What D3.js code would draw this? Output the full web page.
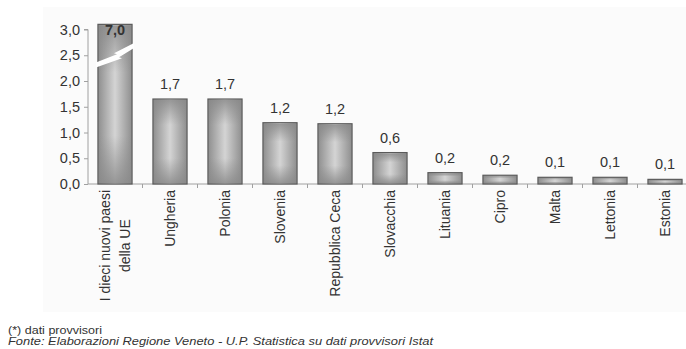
<!DOCTYPE html>
<html lang="it">
<head>
    <meta charset="UTF-8">
    <title>Nuovi paesi UE</title>
    <script src="https://d3js.org/d3.v7.min.js"></script>
    <style>
        body { margin: 0; background: #fff; }
        text { font-family: "Liberation Sans", Arial, sans-serif; fill: #333; }
        .tick text { font-size: 14.5px; }
        .axis path, .axis line { stroke: #a0a0a0; }
        .bar { stroke: #5a5a5a; stroke-width: 1.2; }
        .value { font-size: 14.5px; text-anchor: middle; }
        .cat { font-size: 14px; }
        .note { font-size: 11.5px; }
    </style>
</head>
<body>
<script>
    const width = 686;
    const height = 349;

    const categories = ["I dieci nuovi paesi\ndella UE", "Ungheria", "Polonia", "Slovenia", "Repubblica Ceca",
        "Slovacchia", "Lituania", "Cipro", "Malta", "Lettonia", "Estonia"];
    const values = [7.0, 1.65, 1.65, 1.19, 1.17, 0.61, 0.22, 0.17, 0.13, 0.13, 0.09];
    const valueLabels = ["7,0", "1,7", "1,7", "1,2", "1,2", "0,6", "0,2", "0,2", "0,1", "0,1", "0,1"];
    const yTicks = [0, 0.5, 1, 1.5, 2, 2.5, 3];

    const x = d3.scaleBand().domain(categories).range([87.5, 692.5]).paddingInner(0.38).paddingOuter(0.19);
    const y = d3.scaleLinear().domain([0, 3]).range([184, 29.5]);
    const cap = 3.1; // bars above the axis max are cut here

    const svg = d3.select("body").append("svg").attr("width", width).attr("height", height);

    const defs = svg.append("defs");
    const hg = defs.append("linearGradient").attr("id", "hgrad").attr("x1", 0).attr("x2", 1).attr("y1", 0).attr("y2", 0);
    hg.append("stop").attr("offset", "0%").attr("stop-color", "#8e8e8e");
    hg.append("stop").attr("offset", "50%").attr("stop-color", "#d4d4d4");
    hg.append("stop").attr("offset", "100%").attr("stop-color", "#8e8e8e");
    const vg = defs.append("linearGradient").attr("id", "vgrad").attr("x1", 0).attr("x2", 0).attr("y1", 0).attr("y2", 1);
    vg.append("stop").attr("offset", "0%").attr("stop-color", "#888").attr("stop-opacity", 0.8);
    vg.append("stop").attr("offset", "30%").attr("stop-color", "#888").attr("stop-opacity", 0);
    vg.append("stop").attr("offset", "70%").attr("stop-color", "#888").attr("stop-opacity", 0);
    vg.append("stop").attr("offset", "100%").attr("stop-color", "#888").attr("stop-opacity", 0.8);

    // light panel behind the chart
    svg.append("rect").attr("x", 43).attr("y", 7).attr("width", width - 43).attr("height", 305).attr("fill", "#fbfbfb");

    // axes
    const yAxis = svg.append("g").attr("class", "axis").attr("transform", "translate(88,0)")
        .call(d3.axisLeft(y).tickValues(yTicks).tickSize(4).tickPadding(4)
            .tickFormat(d => d3.format(".1f")(d).replace(".", ",")));
    yAxis.select(".domain").attr("d", `M-4,${y(3)}H0V${y(0)}`);

    const xAxis = svg.append("g").attr("class", "axis").attr("transform", `translate(0,${y(0)})`);
    xAxis.append("line").attr("x1", 88).attr("x2", 692.5);
    xAxis.selectAll("line.tk").data(categories.slice(1)).enter().append("line").attr("class", "tk")
        .attr("x1", d => x(d) - x.step() * x.paddingInner() / 2)
        .attr("x2", d => x(d) - x.step() * x.paddingInner() / 2)
        .attr("y1", 0).attr("y2", 4);

    // bars
    const bars = svg.append("g").selectAll("g").data(categories).enter().append("g");
    const barTop = (d, i) => y(Math.min(values[i], cap));
    bars.append("rect").attr("class", "bar")
        .attr("x", d => x(d)).attr("width", x.bandwidth())
        .attr("y", barTop).attr("height", (d, i) => y(0) - barTop(d, i))
        .attr("fill", "url(#hgrad)");
    bars.append("rect")
        .attr("x", d => x(d) + 1).attr("width", x.bandwidth() - 2)
        .attr("y", (d, i) => barTop(d, i) + 1).attr("height", (d, i) => Math.max(0, y(0) - barTop(d, i) - 2))
        .attr("fill", "url(#vgrad)");

    // zigzag break marker on bars that go off the scale
    const brk = svg.append("g");
    categories.forEach((c, i) => {
        if (values[i] <= cap) return;
        const x0 = x(c) - 2, x1 = x(c) + x.bandwidth() + 2, xm = (x0 + x1) / 2;
        const pts = [
            [x0, y(2.36)], [xm + 2, y(2.52)], [xm - 1, y(2.54)], [x1, y(2.74)],
            [x1, y(2.64)], [xm + 4, y(2.46)], [xm + 7, y(2.44)], [x0, y(2.26)]
        ];
        brk.append("polygon").attr("points", pts.map(p => p.join(",")).join(" ")).attr("fill", "#fff");
    });

    // value labels
    svg.append("g").selectAll("text").data(categories).enter().append("text")
        .attr("class", "value")
        .attr("x", d => x(d) + x.bandwidth() / 2)
        .attr("y", (d, i) => values[i] > cap ? y(cap) + 11 : y(values[i]) - 10)
        .attr("font-weight", (d, i) => values[i] > cap ? "bold" : null)
        .text((d, i) => valueLabels[i]);

    // rotated category labels
    const catG = svg.append("g").selectAll("g").data(categories).enter().append("g")
        .attr("transform", d => `translate(${x(d) + x.bandwidth() / 2},190) rotate(-90)`);
    catG.each(function(d) {
        const lines = d.split("\n");
        const g = d3.select(this);
        const lh = 20;
        const t = g.append("text").attr("class", "cat");
        lines.forEach((l, k) => {
            t.append("tspan").attr("x", 0).attr("y", 5 + (k - (lines.length - 1) / 2) * lh).text(l);
        });
        const widest = d3.max(t.selectAll("tspan").nodes(), n => n.getComputedTextLength());
        t.attr("text-anchor", "middle").selectAll("tspan").attr("x", -widest / 2);
    });

    // notes
    svg.append("text").attr("class", "note").attr("x", 8).attr("y", 334)
        .attr("textLength", 94).attr("lengthAdjust", "spacingAndGlyphs").text("(*) dati provvisori");
    svg.append("text").attr("class", "note").attr("x", 8).attr("y", 345).attr("font-style", "italic")
        .attr("textLength", 425).attr("lengthAdjust", "spacingAndGlyphs")
        .text("Fonte: Elaborazioni Regione Veneto - U.P. Statistica su dati provvisori Istat");
</script>
</body>
</html>
